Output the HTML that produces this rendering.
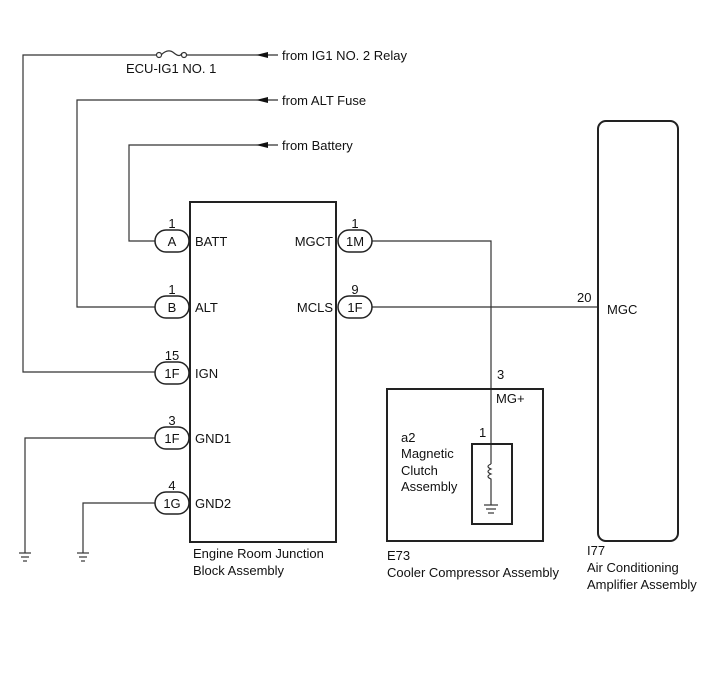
<!DOCTYPE html>
<html><head><style>
body{margin:0;background:#fff;}
svg text{font-family:"Liberation Sans",Arial,sans-serif;font-size:13px;fill:#111;}
</style></head><body>
<svg width="713" height="681" viewBox="0 0 713 681" xmlns="http://www.w3.org/2000/svg">
<g fill="none" stroke="#333" stroke-width="1.2">
<polyline points="278,55 187,55"/>
<polyline points="157,55 23,55 23,372 155,372"/>
<path d="M161,55 Q168,48 174,53 T182,53"/>
<circle cx="159" cy="55" r="2.5" fill="#fff"/>
<circle cx="184" cy="55" r="2.5" fill="#fff"/>
<polyline points="278,100 77,100 77,307 155,307"/>
<polyline points="278,145 129,145 129,241 155,241"/>
<polyline points="155,438 25,438 25,553"/>
<polyline points="155,503 83,503 83,553"/>
<polyline points="372,241 491,241 491,464"/>
<polyline points="491,482 491,505"/>
<polyline points="372,307 598,307"/>
<path d="M491,464 q-6,2.5 0,5 q-6,2.5 0,5 q-6,2.5 0,5 l0,3" />
</g>
<g stroke="#333" stroke-width="1.2">
<line x1="19" y1="553" x2="31" y2="553"/><line x1="21" y1="557" x2="29" y2="557"/><line x1="23" y1="561" x2="27" y2="561"/>
<line x1="77" y1="553" x2="89" y2="553"/><line x1="79" y1="557" x2="87" y2="557"/><line x1="81" y1="561" x2="85" y2="561"/>
<line x1="484" y1="505" x2="498" y2="505"/><line x1="486" y1="509" x2="496" y2="509"/><line x1="488" y1="513" x2="494" y2="513"/>
</g>
<g fill="#111">
<polygon points="256,55 268,52 268,58"/>
<polygon points="256,100 268,97 268,103"/>
<polygon points="256,145 268,142 268,148"/>
</g>
<g fill="none" stroke="#222" stroke-width="2">
<rect x="190" y="202" width="146" height="340"/>
<rect x="387" y="389" width="156" height="152"/>
<rect x="472" y="444" width="40" height="80"/>
<rect x="598" y="121" width="80" height="420" rx="8"/>
</g>
<g fill="#fff" stroke="#222" stroke-width="1.5">
<rect x="155" y="230" width="34" height="22" rx="11"/>
<rect x="155" y="296" width="34" height="22" rx="11"/>
<rect x="155" y="362" width="34" height="22" rx="11"/>
<rect x="155" y="427" width="34" height="22" rx="11"/>
<rect x="155" y="492" width="34" height="22" rx="11"/>
<rect x="338" y="230" width="34" height="22" rx="11"/>
<rect x="338" y="296" width="34" height="22" rx="11"/>
</g>
<text x="282" y="60">from IG1 NO. 2 Relay</text>
<text x="126" y="73">ECU-IG1 NO. 1</text>
<text x="282" y="105">from ALT Fuse</text>
<text x="282" y="150">from Battery</text>
<g text-anchor="middle">
<text x="172" y="228">1</text><text x="172" y="246">A</text>
<text x="172" y="294">1</text><text x="172" y="312">B</text>
<text x="172" y="360">15</text><text x="172" y="378">1F</text>
<text x="172" y="425">3</text><text x="172" y="443">1F</text>
<text x="172" y="490">4</text><text x="172" y="508">1G</text>
<text x="355" y="228">1</text><text x="355" y="246">1M</text>
<text x="355" y="294">9</text><text x="355" y="312">1F</text>
</g>
<text x="195" y="246">BATT</text>
<text x="195" y="312">ALT</text>
<text x="195" y="378">IGN</text>
<text x="195" y="443">GND1</text>
<text x="195" y="508">GND2</text>
<text x="333" y="246" text-anchor="end">MGCT</text>
<text x="333" y="312" text-anchor="end">MCLS</text>
<text x="497" y="379">3</text>
<text x="496" y="403">MG+</text>
<text x="479" y="437">1</text>
<text x="401" y="442">a2</text>
<text x="401" y="458">Magnetic</text>
<text x="401" y="475">Clutch</text>
<text x="401" y="491">Assembly</text>
<text x="577" y="302">20</text>
<text x="607" y="314">MGC</text>
<text x="193" y="558">Engine Room Junction</text>
<text x="193" y="575">Block Assembly</text>
<text x="387" y="560">E73</text>
<text x="387" y="577">Cooler Compressor Assembly</text>
<text x="587" y="555">I77</text>
<text x="587" y="572">Air Conditioning</text>
<text x="587" y="589">Amplifier Assembly</text>
</svg>
</body></html>
